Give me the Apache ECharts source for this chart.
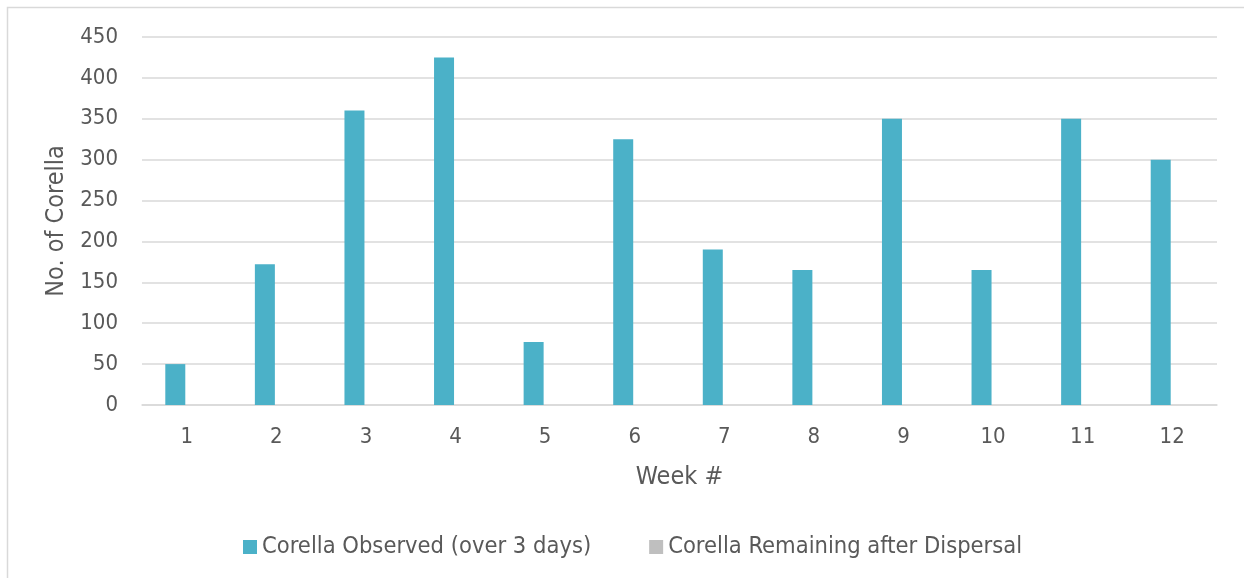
<!DOCTYPE html>
<html>
<head>
<meta charset="utf-8">
<script src="https://cdn.jsdelivr.net/npm/echarts@6/dist/echarts.min.js"></script>
<style>
  html, body { margin: 0; padding: 0; background: #fff; }
  #main { width: 1244px; height: 578px; }
</style>
</head>
<body>
<div id="main"></div>
<script>
// chart data
const weeks = ['1', '2', '3', '4', '5', '6', '7', '8', '9', '10', '11', '12'];
const observed = [50, 172, 360, 425, 77, 325, 190, 165, 350, 165, 350, 300];
const remaining = [0, 0, 0, 0, 0, 0, 0, 0, 0, 0, 0, 0];
const seriesNames = ['Corella Observed (over 3 days)', 'Corella Remaining after Dispersal'];

const FONT = '"DejaVu Sans Condensed", "DejaVu Sans", sans-serif';
const TEXT = '#595959';

var chart = echarts.init(document.getElementById('main'));

var option = {
    animation: false,
    textStyle: { fontFamily: FONT },
    graphic: [{
        type: 'rect',
        shape: { x: 7.5, y: 7.5, width: 1260, height: 600 },
        style: { fill: 'none', stroke: '#d9d9d9', lineWidth: 1.5 },
        silent: true
    }],
    legend: {
        left: 238,
        top: 530,
        itemWidth: 14,
        itemHeight: 14,
        itemGap: 58,
        icon: 'rect',
        textStyle: { color: TEXT, fontSize: 23.5, fontFamily: FONT },
        data: seriesNames
    },
    grid: {
        left: 142,
        right: 27,
        top: 37,
        bottom: 173
    },
    xAxis: {
        type: 'category',
        data: weeks,
        name: 'Week #',
        nameLocation: 'middle',
        nameGap: 60,
        nameTextStyle: { color: TEXT, fontSize: 25, fontFamily: FONT },
        axisLine: { lineStyle: { color: '#d9d9d9', width: 1.5 } },
        axisTick: { show: false },
        axisLabel: { color: TEXT, fontSize: 22, fontFamily: FONT, margin: 21 }
    },
    yAxis: {
        type: 'value',
        min: 0,
        max: 450,
        interval: 50,
        name: 'No. of Corella',
        nameLocation: 'middle',
        nameGap: 73,
        nameTextStyle: { color: TEXT, fontSize: 25, fontFamily: FONT },
        axisLine: { show: false },
        axisTick: { show: false },
        axisLabel: { color: TEXT, fontSize: 22, fontFamily: FONT, margin: 24 },
        splitLine: { lineStyle: { color: '#d9d9d9', width: 1.5 } }
    },
    series: [
        {
            name: seriesNames[0],
            type: 'bar',
            barWidth: 20,
            barGap: '15%',
            itemStyle: { color: '#4bb1c8' },
            data: observed
        },
        {
            name: seriesNames[1],
            type: 'bar',
            barWidth: 20,
            itemStyle: { color: '#bfbfbf' },
            data: remaining
        }
    ]
};

chart.setOption(option);
</script>
</body>
</html>
